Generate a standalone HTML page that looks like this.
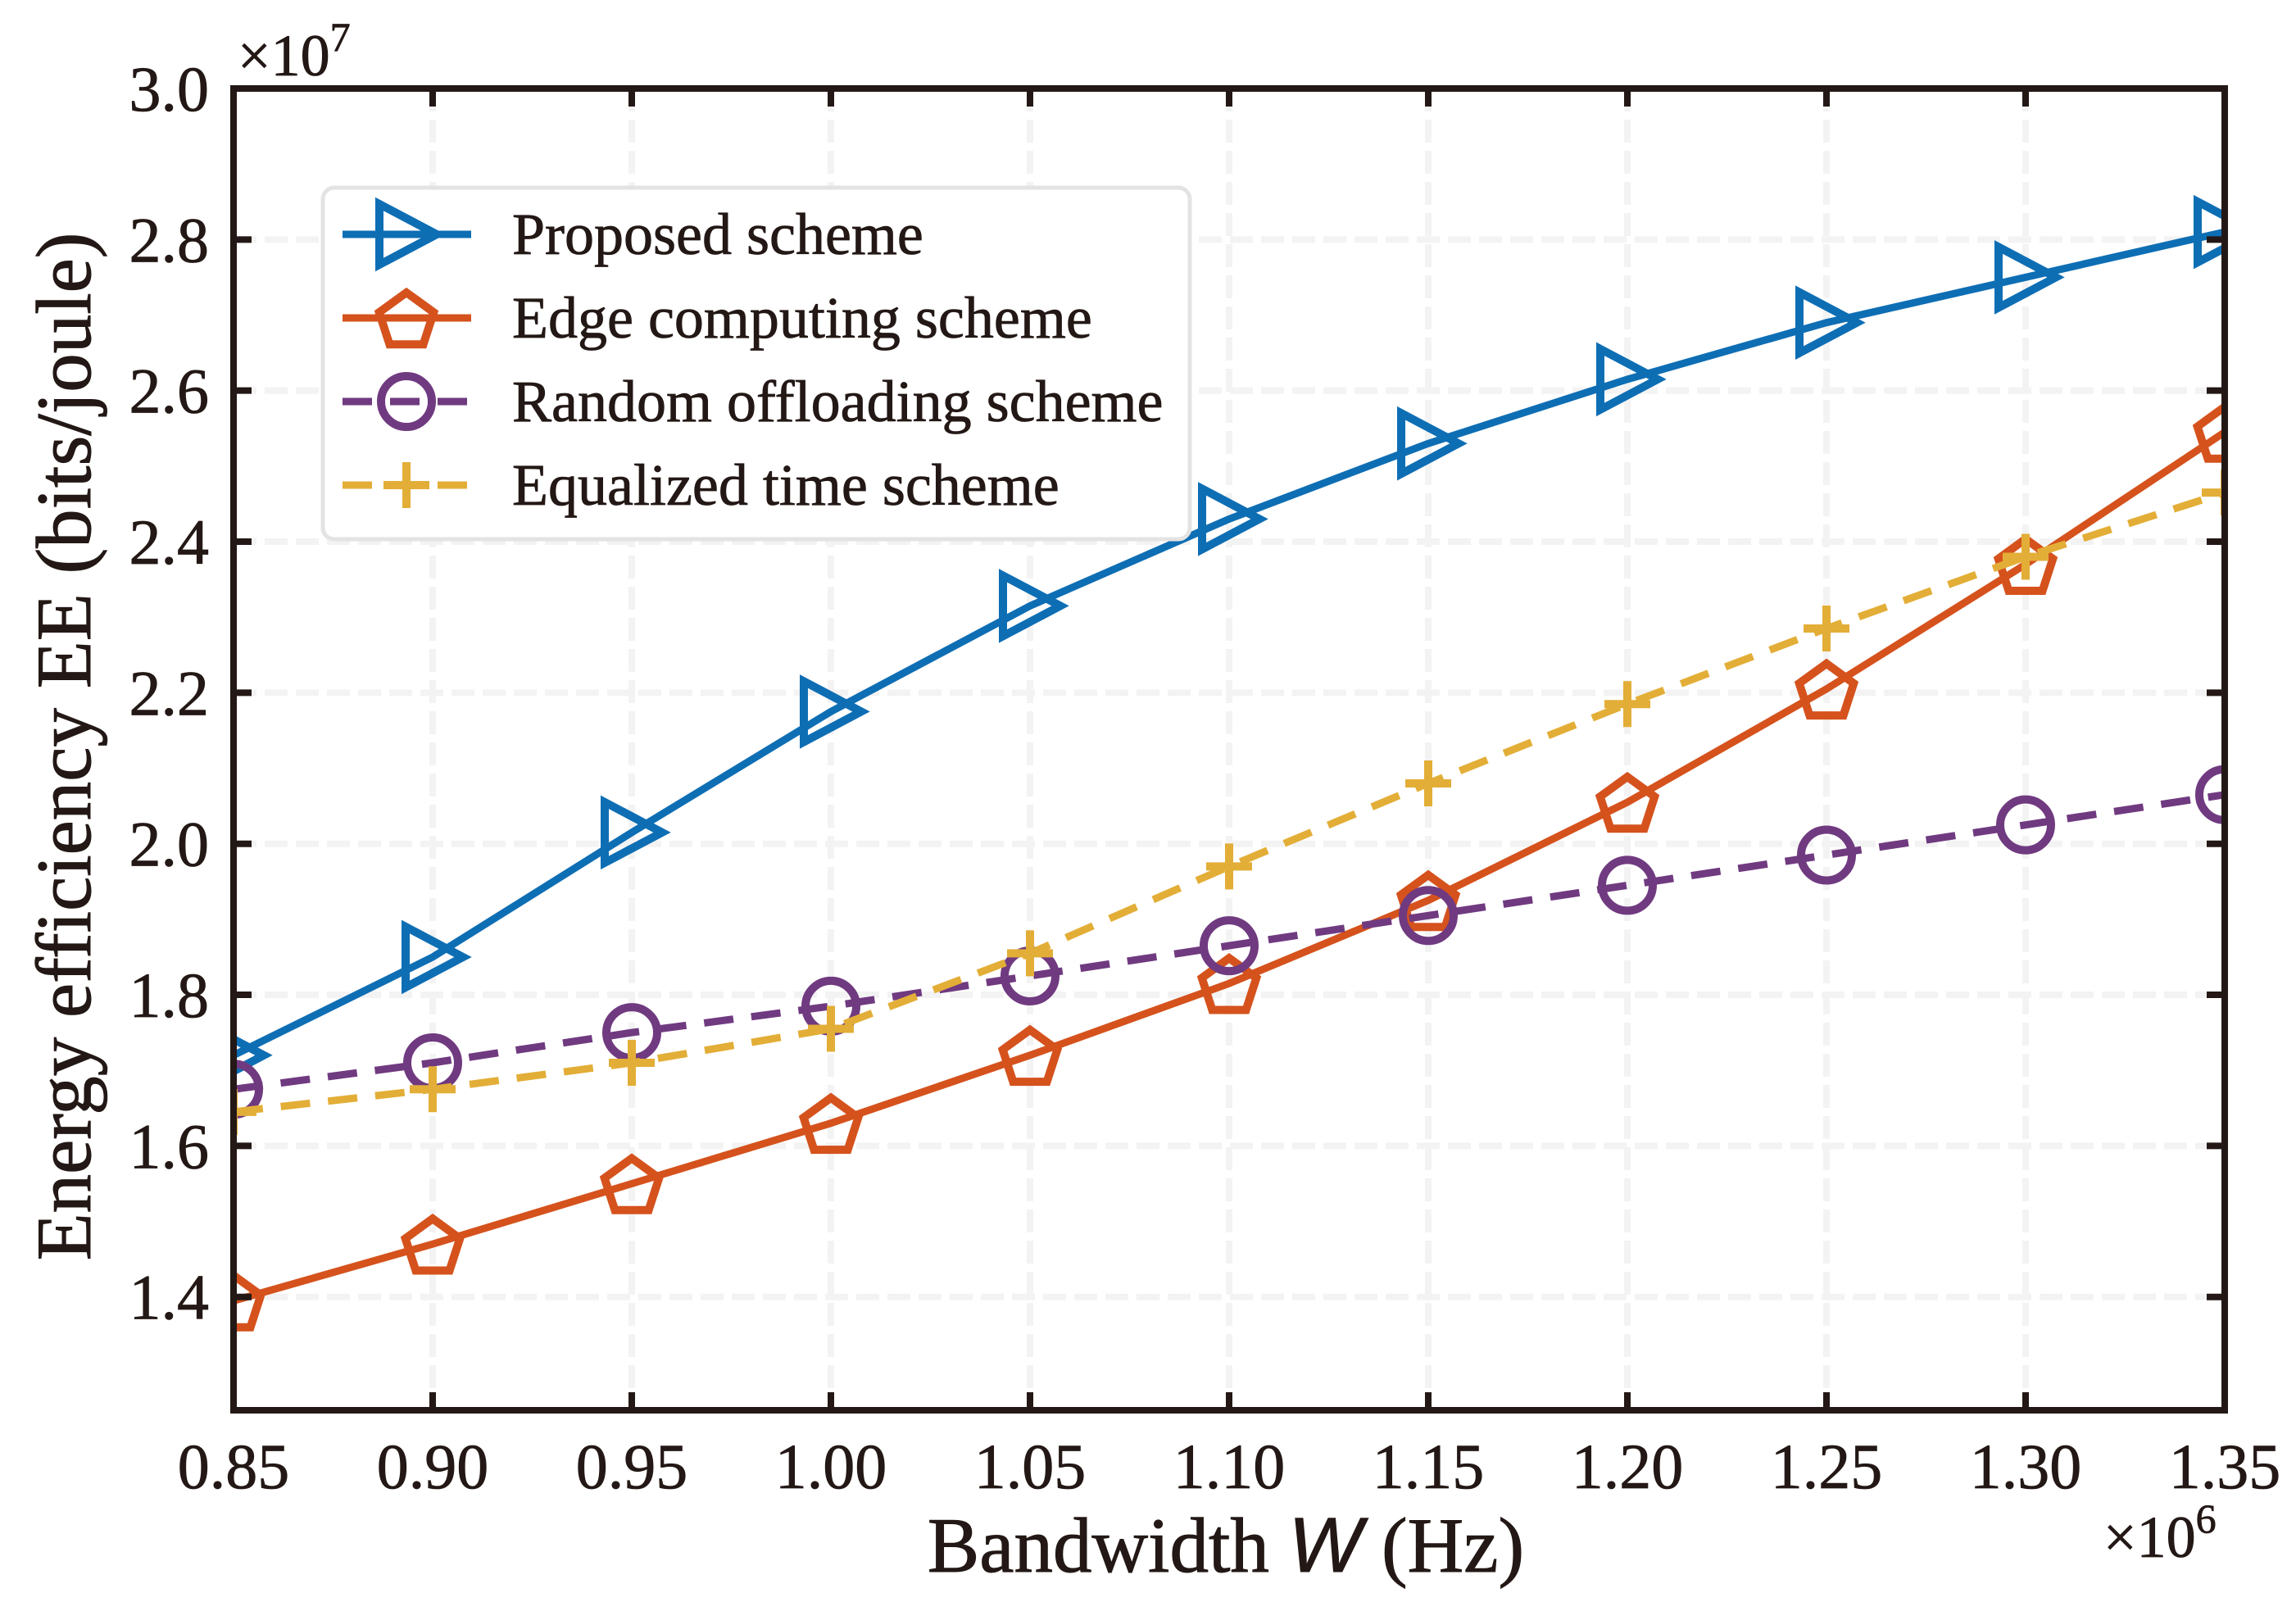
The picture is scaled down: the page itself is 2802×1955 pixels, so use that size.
<!DOCTYPE html>
<html><head><meta charset="utf-8"><style>
html,body{margin:0;padding:0;background:#fff;}
svg{display:block;font-family:"Liberation Serif",serif;}
</style></head><body>
<svg id="chart" width="2802" height="1955" viewBox="0 0 2802 1955" xmlns="http://www.w3.org/2000/svg">
<defs><clipPath id="plotclip"><rect x="285" y="108" width="2430" height="1613"/></clipPath></defs>
<g id="grid"></g>
<g id="series" clip-path="url(#plotclip)"></g>
<g id="axes"></g>
<g id="legend"></g>
<text x="290" y="92" font-size="72" fill="#231815" stroke="#231815" stroke-width="0.8">×10<tspan font-size="50" dy="-30">7</tspan></text>
<text x="2567" y="1900" font-size="72" fill="#231815" stroke="#231815" stroke-width="0.8">×10<tspan font-size="50" dy="-30">6</tspan></text>
<text x="1496" y="1918" text-anchor="middle" font-size="95" fill="#231815" stroke="#231815" stroke-width="1">Bandwidth <tspan font-family="Liberation Sans, sans-serif" font-style="italic">W</tspan> (Hz)</text>
<text transform="translate(110,911) rotate(-90)" text-anchor="middle" font-size="95" fill="#231815" stroke="#231815" stroke-width="1">Energy efficiency EE (bits/joule)</text>
</svg>
<script>
const xValues = [0.85,0.90,0.95,1.00,1.05,1.10,1.15,1.20,1.25,1.30,1.35];
const xTicks = ["0.85","0.90","0.95","1.00","1.05","1.10","1.15","1.20","1.25","1.30","1.35"];
const yTicks = [1.4,1.6,1.8,2.0,2.2,2.4,2.6,2.8,3.0];
const proposed = [1.72,1.85,2.015,2.175,2.315,2.43,2.53,2.615,2.69,2.75,2.81];
const edge = [1.395,1.47,1.55,1.63,1.72,1.815,1.925,2.055,2.205,2.37,2.545];
const randomOff = [1.675,1.71,1.75,1.785,1.825,1.865,1.905,1.945,1.985,2.025,2.065];
const equalized = [1.645,1.675,1.71,1.755,1.855,1.97,2.08,2.185,2.285,2.38,2.465];
const seriesNames = ["Proposed scheme","Edge computing scheme","Random offloading scheme","Equalized time scheme"];

const NS="http://www.w3.org/2000/svg";
const L=285,R=2715,T=108,B=1721;
const xMin=0.85,xMax=1.35,yMin=1.25,yMax=3.0;
function sx(v){return L+(v-xMin)/(xMax-xMin)*(R-L);}
function sy(v){return B-(v-yMin)/(yMax-yMin)*(B-T);}
function mk(tag,attrs,parent){const e=document.createElementNS(NS,tag);for(const k in attrs)e.setAttribute(k,attrs[k]);parent.appendChild(e);return e;}
const grid=document.getElementById('grid'),axes=document.getElementById('axes'),ser=document.getElementById('series'),leg=document.getElementById('legend');

xValues.forEach((v,i)=>{
  if(i===0||i===xValues.length-1)return;
  const g=mk('line',{x1:sx(v),x2:sx(v),y1:T,y2:B,stroke:'#f3f3f3','stroke-width':8,'stroke-dasharray':'28 10'},grid);
  
  
});
yTicks.forEach(v=>{
  if(v>=3.0)return;
  const g=mk('line',{x1:L,x2:R,y1:sy(v),y2:sy(v),stroke:'#f3f3f3','stroke-width':8,'stroke-dasharray':'28 10'},grid);
  
  
});

const colors=['#0e6eb4','#d5521d','#703a80','#e3ae37'];
const dataSets=[proposed,edge,randomOff,equalized];
const dashes=['none','none','36 22','36 22'];
const kinds=['tri','pent','circ','plus'];
function marker(kind,x,y,c,parent){
  let e;
  if(kind==='tri'){e=mk('polygon',{points:`${x-33},${y-37} ${x+37},${y} ${x-33},${y+37}`,fill:'none',stroke:c,'stroke-width':10},parent);}
  else if(kind==='pent'){let p=[];for(let k=0;k<5;k++){const a=-Math.PI/2+k*2*Math.PI/5;p.push((x+35*Math.cos(a)).toFixed(1)+','+(y+4+35*Math.sin(a)).toFixed(1));}
    e=mk('polygon',{points:p.join(' '),fill:'none',stroke:c,'stroke-width':10},parent);}
  else if(kind==='circ'){e=mk('circle',{cx:x,cy:y,r:31,fill:'none',stroke:c,'stroke-width':10},parent);}
  else {e=mk('path',{d:`M${x-28},${y}H${x+28}M${x},${y-28}V${y+28}`,fill:'none',stroke:c,'stroke-width':10},parent);}
  return e;
}
dataSets.forEach((d,si)=>{
  const pts=d.map((v,i)=>sx(xValues[i]).toFixed(1)+','+sy(v).toFixed(1)).join(' ');
  const ln=mk('polyline',{points:pts,fill:'none',stroke:colors[si],'stroke-width':9,'stroke-dasharray':dashes[si]},ser);
  
  
  d.forEach((v,i)=>{
    const m=marker(kinds[si],sx(xValues[i]),sy(v),colors[si],ser);
    
    
  });
});

const fr=mk('rect',{x:L,y:T,width:R-L,height:B-T,fill:'none',stroke:'#231815','stroke-width':8},axes);


xValues.forEach((v,i)=>{
  const t=mk('line',{x1:sx(v),x2:sx(v),y1:B,y2:B-22,stroke:'#231815','stroke-width':8},axes);
  
  
  const t2=mk('line',{x1:sx(v),x2:sx(v),y1:T,y2:T+22,stroke:'#231815','stroke-width':8},axes);
  
  
  const tx=mk('text',{x:sx(v),y:1816,'text-anchor':'middle','font-size':78,fill:'#231815',stroke:'#231815','stroke-width':0.8},axes);
  tx.textContent=xTicks[i];
  
  
});
yTicks.forEach(v=>{
  const t=mk('line',{x1:L,x2:L+22,y1:sy(v),y2:sy(v),stroke:'#231815','stroke-width':8},axes);
  
  
  const t2=mk('line',{x1:R,x2:R-22,y1:sy(v),y2:sy(v),stroke:'#231815','stroke-width':8},axes);
  
  
  const tx=mk('text',{x:L-30,y:sy(v)+27,'text-anchor':'end','font-size':78,fill:'#231815',stroke:'#231815','stroke-width':0.8},axes);
  tx.textContent=v.toFixed(1);
  
  
});

const box=mk('rect',{x:394,y:229,width:1058,height:429,rx:14,fill:'#fff',stroke:'#e3e3e3','stroke-width':5},leg);


const legY=[286,388,490,592];
seriesNames.forEach((n,si)=>{
  const g=mk('g',{},leg);
  
  
  mk('line',{x1:418,x2:575,y1:legY[si],y2:legY[si],stroke:colors[si],'stroke-width':9,'stroke-dasharray':dashes[si]==='none'?'none':'36 22'},g);
  marker(kinds[si],496,legY[si],colors[si],g);
  const tx=mk('text',{x:625,y:legY[si]+24,'font-size':72,fill:'#231815',stroke:'#231815','stroke-width':0.8},g);
  tx.textContent=n;
});
</script>
</body></html>
